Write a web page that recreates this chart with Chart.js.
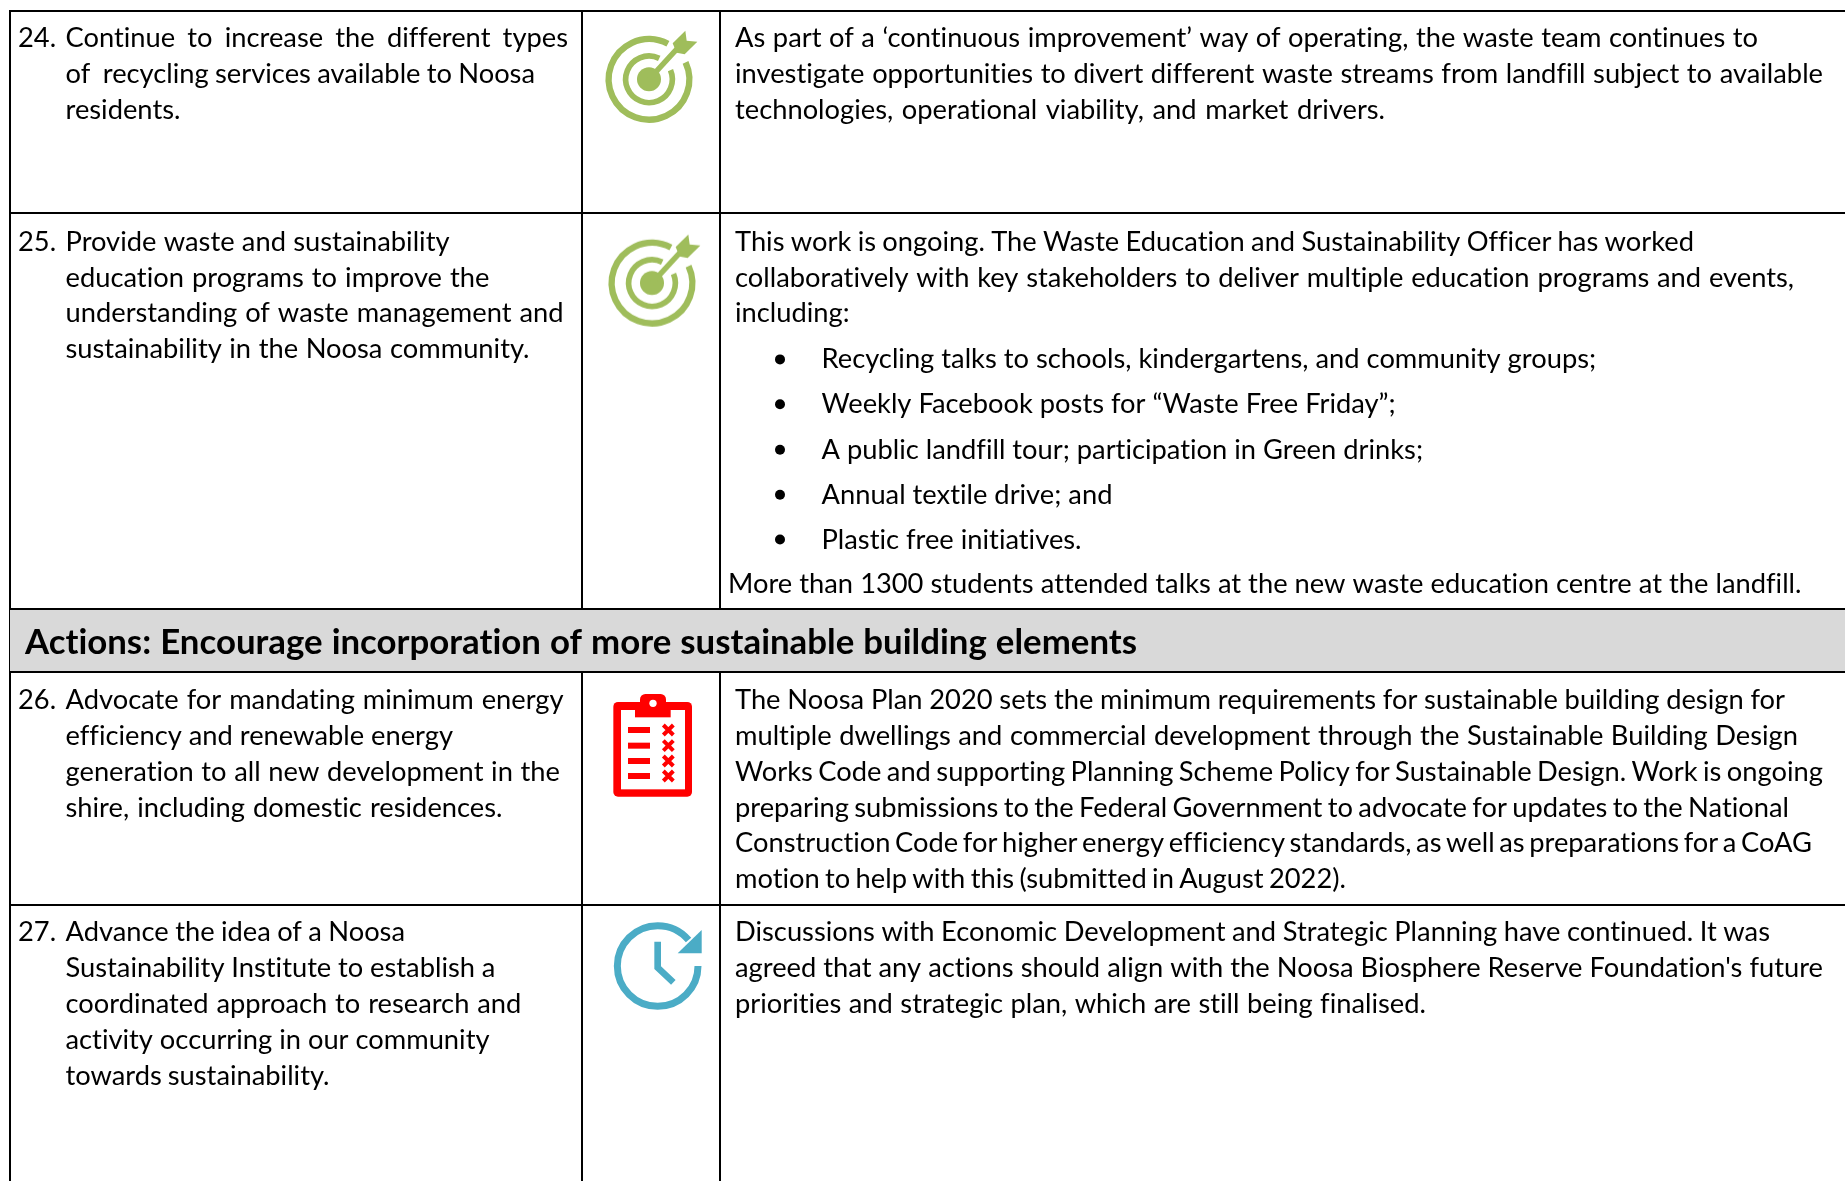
<!DOCTYPE html>
<html>
<head>
<meta charset="utf-8">
<title>Noosa actions</title>
<script src="https://cdn.jsdelivr.net/npm/chart.js@4"></script>
<style>
  html, body { margin: 0; padding: 0; background: #fff; }
  #wrap { width: 1845px; height: 1181px; }
</style>
</head>
<body>
<div id="wrap"><canvas id="tabla"></canvas></div>
<script>
// --- table contents ---
const rowNumbers = ['24.', '25.', '26.', '27.'];

const actionLines = [
    ['Continue to increase the different types', 'of  recycling services available to Noosa', 'residents.'],
    ['Provide waste and sustainability', 'education programs to improve the', 'understanding of waste management and', 'sustainability in the Noosa community.'],
    ['Advocate for mandating minimum energy', 'efficiency and renewable energy', 'generation to all new development in the', 'shire, including domestic residences.'],
    ['Advance the idea of a Noosa', 'Sustainability Institute to establish a', 'coordinated approach to research and', 'activity occurring in our community', 'towards sustainability.']
];

const commentLines = [
    ['As part of a ‘continuous improvement’ way of operating, the waste team continues to', 'investigate opportunities to divert different waste streams from landfill subject to available', 'technologies, operational viability, and market drivers.'],
    ['This work is ongoing. The Waste Education and Sustainability Officer has worked', 'collaboratively with key stakeholders to deliver multiple education programs and events,', 'including:'],
    ['The Noosa Plan 2020 sets the minimum requirements for sustainable building design for', 'multiple dwellings and commercial development through the Sustainable Building Design', 'Works Code and supporting Planning Scheme Policy for Sustainable Design. Work is ongoing', 'preparing submissions to the Federal Government to advocate for updates to the National', 'Construction Code for higher energy efficiency standards, as well as preparations for a CoAG', 'motion to help with this (submitted in August 2022).'],
    ['Discussions with Economic Development and Strategic Planning have continued. It was', 'agreed that any actions should align with the Noosa Biosphere Reserve Foundation\'s future', 'priorities and strategic plan, which are still being finalised.']
];

const bulletLines = [
    'Recycling talks to schools, kindergartens, and community groups;',
    'Weekly Facebook posts for “Waste Free Friday”;',
    'A public landfill tour; participation in Green drinks;',
    'Annual textile drive; and',
    'Plastic free initiatives.'
];

const closingLine = 'More than 1300 students attended talks at the new waste education centre at the landfill.';
const sectionHeading = 'Actions: Encourage incorporation of more sustainable building elements';

// --- layout, in page pixels ---
const columnEdges = [10, 582, 720];
const rowEdges = [11, 213, 609, 672, 905];
const rowBaselines = [47.2, 250.7, 709, 941.4];
const bulletBaselines = [368.4, 413.2, 458.8, 503.8, 548.5];
const lineGap = 35.85;
const TEXT_FONT = '27.3px Lato';
const HEAD_FONT = 'bold 34.8px Lato';

// where each line stops in the original, gaps between words are stretched to get there
const actionEnds = [
    [568, 535, 182],
    [449.5, 489.5, 563.6, 529.5],
    [563.6, 453, 560, 502.5],
    [405, 495.4, 521.3, 489.5, 329.5]
];
const commentEnds = [
    [1758, 1823, 1385],
    [1694, 1794, 850],
    [1785, 1798, 1823, 1789, 1812, 1346],
    [1770, 1823, 1426]
];

// --- icons, drawn at 3x coordinates of a 120px square ---
function iconCanvas(w, h, draw) {
    const c = document.createElement('canvas');
    c.width = w;
    c.height = h;
    const g = c.getContext('2d');
    g.scale(1 / 3, 1 / 3);
    draw(g);
    return c;
}

const targetIcon = iconCanvas(120, 120, g => {
    const green = '#9fbd5b';
    const cx = 207, cy = 208;
    const rad = d => d * Math.PI / 180;
    g.strokeStyle = green;
    g.lineWidth = 19;
    g.beginPath();
    g.arc(cx, cy, 121, rad(-25), rad(-62));
    g.stroke();
    g.lineWidth = 17;
    g.beginPath();
    g.arc(cx, cy, 70, rad(-23), rad(-64));
    g.stroke();
    g.fillStyle = green;
    g.beginPath();
    g.arc(cx, cy, 36, 0, Math.PI * 2);
    g.fill();
    g.lineWidth = 16;
    g.beginPath();
    g.moveTo(cx, cy);
    g.lineTo(295, 112);
    g.stroke();
    g.beginPath();
    [[278, 100], [316, 62], [320, 92], [352, 95], [314, 133], [290, 128]].forEach(p => g.lineTo(p[0], p[1]));
    g.closePath();
    g.fill();
});

const clipboardIcon = iconCanvas(120, 130, g => {
    g.fillStyle = '#ff0000';
    g.beginPath();
    g.roundRect(70, 66, 236, 284, 14);
    g.fill();
    g.fillStyle = '#fff';
    g.fillRect(93, 90, 192, 238);
    g.fillStyle = '#ff0000';
    g.fillRect(135, 88, 107, 24);
    g.beginPath();
    g.roundRect(150, 42, 78, 60, 16);
    g.fill();
    g.fillStyle = '#fff';
    g.beginPath();
    g.arc(189, 70, 11, 0, Math.PI * 2);
    g.fill();
    g.fillStyle = '#ff0000';
    g.strokeStyle = '#ff0000';
    g.lineWidth = 12;
    [150, 197, 243, 288].forEach(y => {
        g.fillRect(114, y - 9, 66, 18);
        g.beginPath();
        g.moveTo(220, y - 15);
        g.lineTo(250, y + 15);
        g.moveTo(250, y - 15);
        g.lineTo(220, y + 15);
        g.stroke();
    });
});

const clockIcon = iconCanvas(120, 120, g => {
    const blue = '#4bacc6';
    g.strokeStyle = blue;
    g.fillStyle = blue;
    g.lineWidth = 21;
    g.beginPath();
    g.arc(203, 183, 121, 0, -40 * Math.PI / 180);
    g.stroke();
    g.beginPath();
    g.moveTo(335, 75);
    g.lineTo(335, 145);
    g.lineTo(263, 145);
    g.closePath();
    g.fill();
    g.lineWidth = 20;
    g.beginPath();
    g.moveTo(203, 110);
    g.lineTo(203, 188);
    g.lineTo(250, 232);
    g.stroke();
});

// --- all the text goes through the chart's own scales ---
const tablePlugin = {
    id: 'tableText',
    afterDatasetsDraw(chart) {
        const { ctx, scales } = chart;
        const put = (text, x, y, font, end) => {
            ctx.font = font || TEXT_FONT;
            ctx.wordSpacing = '0px';
            const gaps = text.split(' ').length - 1;
            if (end && gaps) {
                ctx.wordSpacing = ((end - x - ctx.measureText(text).width) / gaps) + 'px';
            }
            ctx.fillText(text, scales.x.getPixelForValue(x), scales.y.getPixelForValue(y));
        };
        ctx.save();
        ctx.fillStyle = '#000';
        ctx.textBaseline = 'alphabetic';
        ctx.letterSpacing = '0.001px'; // no ti/tt ligatures, the original has none
        rowNumbers.forEach((n, r) => {
            put(n, 18, rowBaselines[r]);
            actionLines[r].forEach((t, i) => put(t, 65.5, rowBaselines[r] + i * lineGap, TEXT_FONT, actionEnds[r][i]));
            commentLines[r].forEach((t, i) => put(t, 735, rowBaselines[r] + i * lineGap, TEXT_FONT, commentEnds[r][i]));
        });
        bulletLines.forEach((t, i) => put(t, 821.5, bulletBaselines[i]));
        put(closingLine, 728, 593, TEXT_FONT, 1801.5);
        put(sectionHeading, 25, 654, HEAD_FONT, 1137);
        ctx.restore();
    }
};

new Chart(document.getElementById('tabla'), {
    type: 'scatter',
    data: {
        datasets: [
            {
                // grey section band
                data: [{ x: 10, y: 610 }, { x: 1845, y: 610 }],
                showLine: true,
                borderWidth: 0,
                pointRadius: 0,
                backgroundColor: '#d9d9d9',
                fill: { value: 671 }
            },
            {
                data: [{ x: 640, y: 70 }, { x: 643, y: 273.7 }],
                pointStyle: targetIcon
            },
            {
                data: [{ x: 650, y: 745 }],
                pointStyle: clipboardIcon
            },
            {
                data: [{ x: 650, y: 965 }],
                pointStyle: clockIcon
            },
            {
                // bullets of the list in row 25
                data: bulletBaselines.map(y => ({ x: 780, y: y - 9 })),
                pointStyle: 'circle',
                pointRadius: 5,
                backgroundColor: '#000',
                borderWidth: 0
            }
        ]
    },
    options: {
        responsive: true,
        maintainAspectRatio: false,
        animation: false,
        layout: { autoPadding: false, padding: { left: 9, top: 10, right: 0, bottom: 0 } },
        plugins: { legend: { display: false }, tooltip: { enabled: false } },
        scales: {
            x: {
                type: 'linear',
                min: 9,
                max: 1845,
                afterBuildTicks: s => { s.ticks = columnEdges.map(value => ({ value })); },
                afterFit: s => { s.height = 0; },
                ticks: { display: false },
                border: { display: false },
                grid: { color: '#000', lineWidth: 2, drawTicks: false }
            },
            y: {
                type: 'linear',
                reverse: true,
                min: 10,
                max: 1181,
                afterBuildTicks: s => { s.ticks = rowEdges.map(value => ({ value })); },
                afterFit: s => { s.width = 0; },
                ticks: { display: false },
                border: { display: false },
                grid: { color: '#000', lineWidth: 2, drawTicks: false }
            }
        }
    },
    plugins: [tablePlugin]
});
</script>
</body>
</html>
